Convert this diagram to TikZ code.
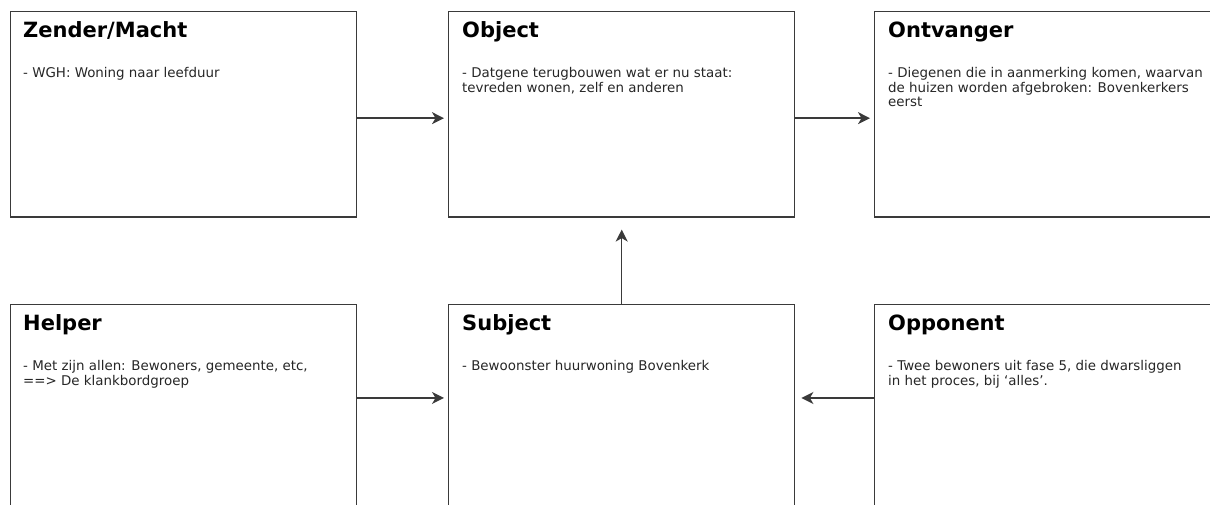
\documentclass[tikz,border=0pt]{standalone}
\usepackage{fontspec}
\setmainfont{DejaVu Sans}
\usetikzlibrary{arrows.meta}
\definecolor{edge}{HTML}{3A3A3A}
\definecolor{bodytxt}{HTML}{262626}
\tikzset{
  box/.style={draw=edge, line width=1.4pt, anchor=north west, minimum width=346pt, minimum height=205.5pt, inner sep=0pt},
  ttl/.style={anchor=base west, inner sep=0pt, font=\fontsize{21}{24}\selectfont\bfseries},
  bdy/.style={anchor=north west, inner sep=0pt, align=left, text=bodytxt, font=\fontsize{13.4}{14}\selectfont},
  arr/.style={draw=edge, line width=1.4pt, -{Stealth[length=12pt,width=12pt,inset=3.5pt]}}
}
\begin{document}
\begin{tikzpicture}[x=1pt,y=-1pt]
\useasboundingbox (0,0) rectangle (1210,504);
\clip (0,0) rectangle (1210,504);
% boxes
\node[box] (zm) at (10,10.7) {};
\node[box] (obj) at (448,10.7) {};
\node[box] (ont) at (874,10.7) {};
\node[box] (hlp) at (10,303.5) {};
\node[box] (sub) at (448,303.5) {};
\node[box] (opp) at (874,303.5) {};
% titles
\node[ttl] (tzm) at (23,37.5) {Zender/Macht};
\node[ttl] (tobj) at (462,37.5) {Object};
\node[ttl] (tont) at (888,37.5) {Ontvanger};
\node[ttl] (thlp) at (23,330.5) {Helper};
\node[ttl] (tsub) at (462,330.5) {Subject};
\node[ttl] (topp) at (888,330.5) {Opponent};
% bodies
\node[bdy] (bzm) at (23,67.2) {\strut- WGH: Woning naar leefduur};
\node[bdy] (bobj) at (462,67.2) {\strut- Datgene terugbouwen wat er nu staat:\\tevreden wonen, zelf en anderen};
\node[bdy] (bont) at (888,67.2) {\strut- Diegenen die in aanmerking komen, waarvan\\de huizen worden afgebroken: Bovenkerkers\\eerst};
\node[bdy] (bhlp) at (23,360.2) {\strut- Met zijn allen: Bewoners, gemeente, etc,\\==> De klankbordgroep};
\node[bdy] (bsub) at (462,360.2) {\strut- Bewoonster huurwoning Bovenkerk};
\node[bdy] (bopp) at (888,360.2) {\strut- Twee bewoners uit fase 5, die dwarsliggen\\in het proces, bij ‘alles’.};
% connectors
\draw[arr, shorten >=4pt] ([yshift=-4pt]zm.east) -- ([yshift=-4pt]obj.west);
\draw[arr, shorten >=4pt] ([yshift=-4pt]obj.east) -- ([yshift=-4pt]ont.west);
\draw[arr, shorten >=12pt] (sub.north) -- (obj.south);
\draw[arr, shorten >=4pt] ([yshift=9pt]hlp.east) -- ([yshift=9pt]sub.west);
\draw[arr, shorten >=6pt] ([yshift=9pt]opp.west) -- ([yshift=9pt]sub.east);
\end{tikzpicture}
\end{document}
